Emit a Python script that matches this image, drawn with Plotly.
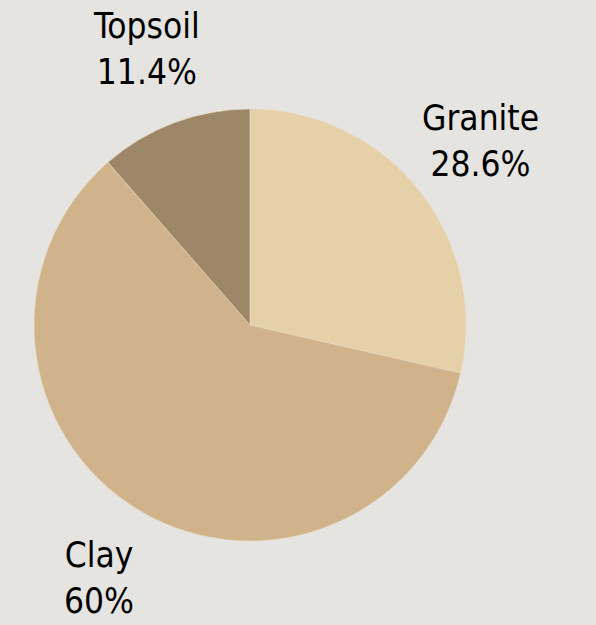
import math
import plotly.graph_objects as go

# Soil composition shares
materials = ["Granite", "Clay", "Topsoil"]
amounts = [10, 21, 4]
colors = ["#e5d0a8", "#d0b38a", "#9d8768"]

BG = "#e6e4e1"
W, H = 596, 625
CX, CY, R = 250, 325, 216      # pie centre and radius in pixels
LABEL_R = 295                  # distance of label centres from the pie centre

fig = go.Figure(
    go.Pie(
        labels=materials,
        values=amounts,
        marker=dict(colors=colors, line=dict(color="#e9dcc4", width=0.6)),
        sort=False,
        direction="clockwise",
        rotation=0,
        textinfo="none",
        hoverinfo="label+percent",
        showlegend=False,
        domain=dict(x=[(CX - R) / W, (CX + R) / W],
                    y=[1 - (CY + R) / H, 1 - (CY - R) / H]),
    )
)

# Labels sit on the radial line through each slice's midpoint
total = sum(amounts)
annotations = []
cum = 0.0
for name, v in zip(materials, amounts):
    frac = v / total
    mid = (cum + frac / 2) * 2 * math.pi
    cum += frac
    pct = f"{frac * 100:.1f}".rstrip("0").rstrip(".")
    px = CX + LABEL_R * math.sin(mid)
    py = CY - LABEL_R * math.cos(mid)
    annotations.append(dict(
        x=px / W, y=1 - py / H, xref="paper", yref="paper",
        text=f"{name}<br>{pct}%", showarrow=False,
        xanchor="center", yanchor="middle", align="center",
        font=dict(family="DejaVu Sans Condensed, DejaVu Sans", size=35, color="#000000"),
    ))

fig.update_layout(
    width=W, height=H,
    margin=dict(l=0, r=0, t=0, b=0),
    paper_bgcolor=BG, plot_bgcolor=BG,
    annotations=annotations,
)

fig.write_html("out.html")
